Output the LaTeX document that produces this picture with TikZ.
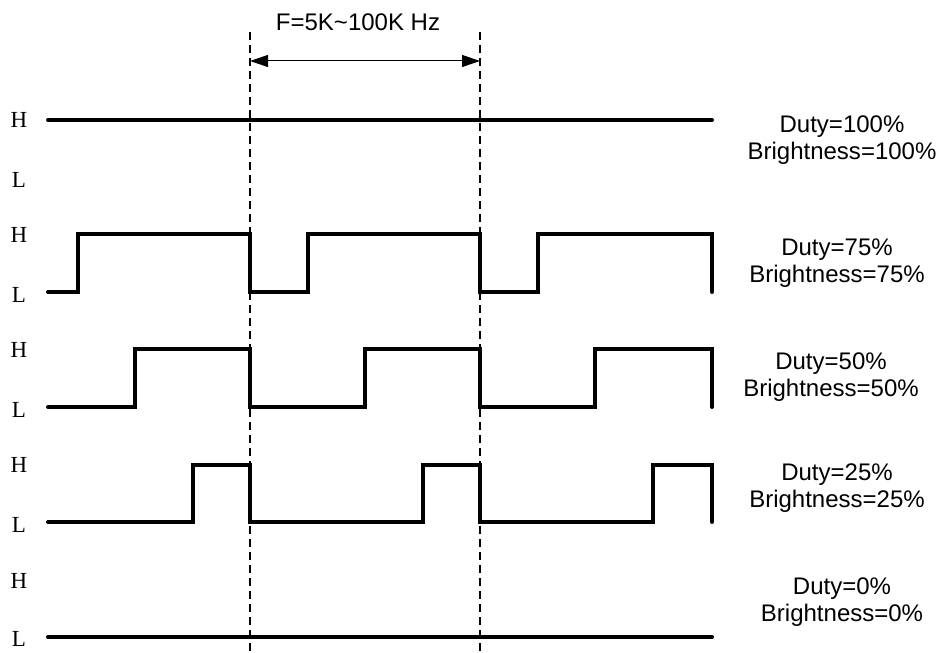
\documentclass[tikz,border=0pt]{standalone}
\usepackage{fontspec}
\newfontfamily\labelfont{Liberation Sans}
\newfontfamily\levelfont{Liberation Serif}
\usetikzlibrary{arrows.meta}

\begin{document}
\begin{tikzpicture}[x=0.5pt, y=-0.5pt,
                    wave/.style={line width=2pt, line cap=round},
                    period/.style={line width=1.3pt, dash pattern=on 4pt off 2.5pt},
                    level/.style={font=\levelfont\fontsize{11.5}{13}\selectfont},
                    duty/.style={font=\labelfont\fontsize{12}{13.5}\selectfont, align=center}
]
\useasboundingbox (0,0) rectangle (945,652);

% period markers
\coordinate (p1top) at (250,32);
\coordinate (p1bot) at (250,652);
\coordinate (p2top) at (480,32);
\coordinate (p2bot) at (480,652);
\draw[period] (p1top) -- (p1bot);
\draw[period] (p2top) -- (p2bot);
%
\coordinate (f1) at (250,61);
\coordinate (f2) at (480,61);
\draw[line width=0.5pt, {Triangle[length=9pt,width=6pt]}-{Triangle[length=9pt,width=6pt]}] (f1) -- (f2);
\node[duty] (freq) at (358,22) {F=5K\textasciitilde100K Hz};

% level labels
\node[level] (h1) at (19,120) {H};
\node[level] (l1) at (19,180) {L};
\node[level] (h2) at (19,235) {H};
\node[level] (l2) at (19,295) {L};
\node[level] (h3) at (19,350) {H};
\node[level] (l3) at (19,410) {L};
\node[level] (h4) at (19,465) {H};
\node[level] (l4) at (19,525) {L};
\node[level] (h5) at (19,581) {H};
\node[level] (l5) at (19,639) {L};

% waveforms
\draw[wave] (48,120) -- (712,120);
\draw[wave] (48,292) -| (77.5,234) -| (250,292) -| (307.5,234) -| (480,292) -| (537.5,234) -| (712,292);
\draw[wave] (48,407) -| (135,349) -| (250,407) -| (365,349) -| (480,407) -| (595,349) -| (712,407);
\draw[wave] (48,522) -| (192.5,465) -| (250,522) -| (422.5,465) -| (480,522) -| (652.5,465) -| (712,522);
\draw[wave] (48,637) -- (712,637);

% duty labels
\node[duty] (d100) at (842,140) {Duty=100\%\\Brightness=100\%};
\node[duty] (d75) at (837,263) {Duty=75\%\\Brightness=75\%};
\node[duty] (d50) at (831,377) {Duty=50\%\\Brightness=50\%};
\node[duty] (d25) at (837,488) {Duty=25\%\\Brightness=25\%};
\node[duty] (d0) at (842,602) {Duty=0\%\\Brightness=0\%};
\end{tikzpicture}
\end{document}
